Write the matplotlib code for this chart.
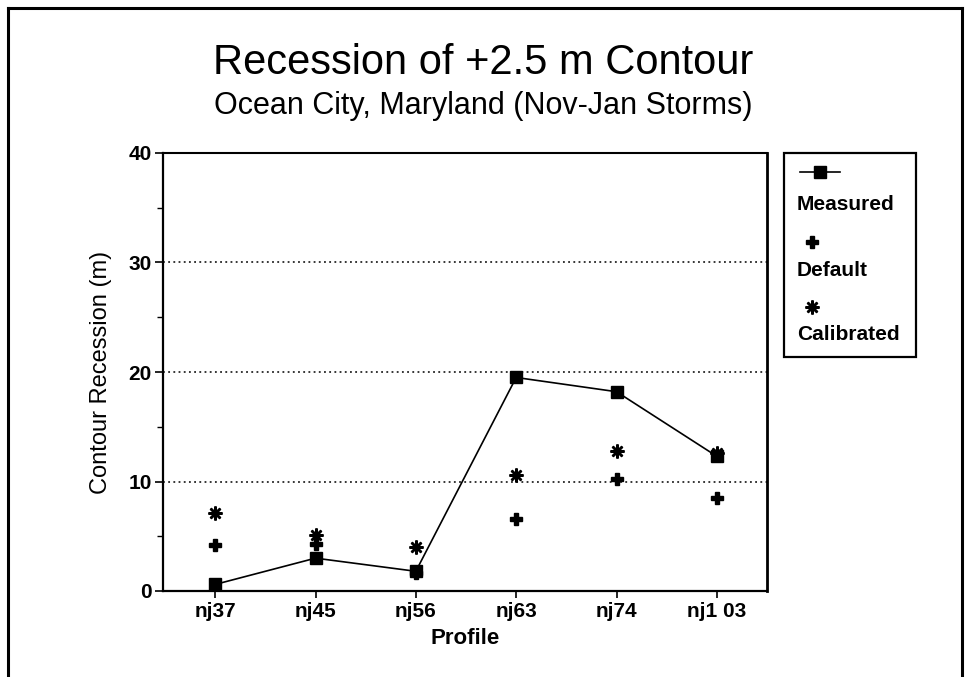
import matplotlib
matplotlib.use("Agg")
import matplotlib.pyplot as plt
from matplotlib.lines import Line2D
from matplotlib.patches import Rectangle
from matplotlib.ticker import MultipleLocator

plt.rcParams['font.family'] = ['Liberation Sans', 'DejaVu Sans']

profiles = ["nj37", "nj45", "nj56", "nj63", "nj74", "nj1 03"]
measured = [0.6, 3.0, 1.8, 19.5, 18.2, 12.3]
default = [4.2, 4.3, 1.6, 6.6, 10.2, 8.5]
calibrated = [7.1, 5.1, 4.0, 10.6, 12.8, 12.6]

W, H = 966, 677
fig = plt.figure(figsize=(W / 100, H / 100), dpi=100)

def fx(px):
    return px / W

def fy(py):
    return 1 - py / H

ax = fig.add_axes([fx(163), fy(591), fx(767) - fx(163), fy(153) - fy(591)])

x = list(range(len(profiles)))
sq_style = dict(marker='s', markersize=9, color='black')
plus_style = dict(marker='P', markersize=8.5, color='black', linestyle='none')
ast_style = dict(marker=(8, 2, 0), markersize=10, markeredgewidth=1.8,
                 color='black', linestyle='none')

ax.plot(x, measured, linewidth=1.2, **sq_style)
ax.plot(x, default, **plus_style)
ax.plot(x, calibrated, **ast_style)

ax.set_xlim(-0.52, 5.5)
ax.set_ylim(0, 40)
ax.set_xticks(x)
ax.set_xticklabels(profiles, fontsize=15, fontweight='bold')
ax.yaxis.set_major_locator(MultipleLocator(10))
ax.yaxis.set_minor_locator(MultipleLocator(5))
ax.tick_params(axis='y', which='major', length=6, width=1.2, labelsize=15, pad=2)
ax.tick_params(axis='y', which='minor', length=4, width=1.0)
ax.tick_params(axis='x', length=5, width=1.2, pad=3)
for lab in ax.get_yticklabels():
    lab.set_fontweight('bold')

for v in (10, 20, 30):
    ax.axhline(v, color='black', linewidth=1.1, linestyle=(0, (1.2, 2.2)), zorder=0)

for side, lw in (('left', 1.6), ('bottom', 1.6), ('top', 1.5), ('right', 2.0)):
    ax.spines[side].set_linewidth(lw)

ax.set_xlabel("Profile", fontsize=16, fontweight='bold', labelpad=5)
ax.set_ylabel("Contour Recession (m)", fontsize=17, labelpad=12)

fig.text(0.5, fy(63), "Recession of +2.5 m Contour", fontsize=30,
         ha='center', va='center')
fig.text(0.5, fy(106), "Ocean City, Maryland (Nov-Jan Storms)", fontsize=22,
         ha='center', va='center')

# legend box on the right
fig.patches.append(Rectangle((fx(784), fy(357)), fx(916) - fx(784), fy(153) - fy(357),
                             transform=fig.transFigure, fill=False,
                             edgecolor='black', linewidth=1.6))
fig.lines.append(Line2D([fx(800), fx(840)], [fy(172), fy(172)],
                        transform=fig.transFigure, linewidth=1.2, color='black'))
fig.lines.append(Line2D([fx(820)], [fy(172)], transform=fig.transFigure,
                        **sq_style))
fig.lines.append(Line2D([fx(812)], [fy(242)], transform=fig.transFigure,
                        **plus_style))
fig.lines.append(Line2D([fx(812)], [fy(307)], transform=fig.transFigure,
                        **ast_style))
for label, py in (("Measured", 205), ("Default", 271), ("Calibrated", 334)):
    fig.text(fx(797), fy(py), label, fontsize=15, fontweight='bold',
             ha='left', va='center')

# page frame
for xs, ys in (([8, 8], [8, H]), ([8, 962], [8, 8]), ([962, 962], [8, H])):
    fig.lines.append(Line2D([fx(v) for v in xs], [fy(v) for v in ys],
                            transform=fig.transFigure, color='black',
                            linewidth=2.2))

fig.savefig("out.png", dpi=100)
